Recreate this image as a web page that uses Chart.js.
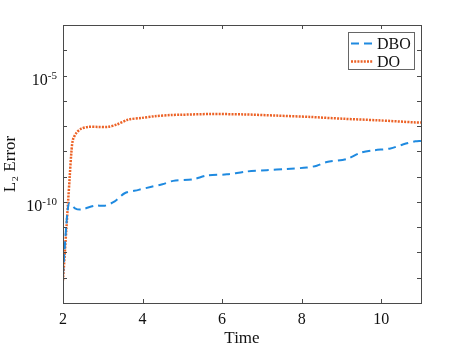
<!DOCTYPE html>
<html>
<head>
  <title>L2 Error vs Time</title>
  <script src="https://cdn.jsdelivr.net/npm/chart.js"></script>
  <style>
    body { margin: 0; background: #fff; }
    #wrap { width: 465px; height: 349px; }
  </style>
</head>
<body>
<div id="wrap"><canvas id="errChart" width="465" height="349"></canvas></div>

<script>
  // data
  const dboTime = [2.0, 2.04, 2.08, 2.12, 2.16, 2.3, 2.45, 2.8, 3.05, 3.3, 3.55, 3.9, 4.2, 4.5, 4.77, 5.27, 5.61, 6.12, 6.62, 7.12, 7.63, 8.13, 8.38, 8.63, 9.13, 9.47, 9.81, 10.23, 10.56, 10.86, 11.0];
  const dboErr = [1.26e-13, 1.26e-12, 1.0e-11, 5.0e-11, 8.9e-11, 5.6e-11, 5.0e-11, 7.1e-11, 7.1e-11, 1.05e-10, 2.2e-10, 3.0e-10, 3.9e-10, 5.0e-10, 6.8e-10, 7.9e-10, 1.1e-9, 1.23e-9, 1.6e-9, 1.8e-9, 2.0e-9, 2.3e-9, 2.7e-9, 3.8e-9, 5.0e-9, 8.7e-9, 1.1e-8, 1.3e-8, 1.9e-8, 2.5e-8, 2.6e-8];

  const doTime = [2.0, 2.086, 2.126, 2.169, 2.21, 2.25, 2.34, 2.46, 2.63, 2.88, 3.13, 3.35, 3.64, 3.97, 4.31, 4.73, 4.94, 5.7, 6.53, 7.38, 8.21, 9.05, 9.89, 10.86, 11.0];
  const doErr = [7.9e-14, 9.1e-12, 9.1e-11, 1.0e-9, 8.9e-9, 2.9e-8, 5.5e-8, 7.9e-8, 9.3e-8, 9.3e-8, 9.3e-8, 1.15e-7, 1.8e-7, 2.1e-7, 2.45e-7, 2.75e-7, 2.8e-7, 3.0e-7, 2.9e-7, 2.6e-7, 2.3e-7, 1.95e-7, 1.7e-7, 1.4e-7, 1.38e-7];

  const xTicks = [2, 4, 6, 8, 10];
  const yTicks = [1e-14, 1e-13, 1e-12, 1e-11, 1e-10, 1e-9, 1e-8, 1e-7, 1e-6, 1e-5, 1e-4, 1e-3];
  const yLabels = [[1e-5, '-5'], [1e-10, '-10']];

  const BLUE = '#1f8ae0';
  const ORANGE = '#ec6226';
  const AXIS = '#4a4a4a';
  const SERIF = '"Liberation Serif", "DejaVu Serif", serif';

  function pts(xs, ys) {
    return xs.map((x, i) => ({ x: x, y: ys[i] }));
  }

  // box, inward ticks, superscript y labels and legend, MATLAB style
  const matlabAxes = {
    id: 'matlabAxes',
    afterDraw(chart) {
      const c = chart.ctx;
      const a = chart.chartArea;
      const xs = chart.scales.x, ys = chart.scales.y;
      c.save();
      c.strokeStyle = AXIS;
      c.lineWidth = 1;
      c.strokeRect(Math.round(a.left) + 0.5, Math.round(a.top) + 0.5,
                   Math.round(a.right - a.left), Math.round(a.bottom - a.top));
      const tl = 4;
      c.beginPath();
      xTicks.forEach(v => {
        const px = Math.round(xs.getPixelForValue(v)) + 0.5;
        c.moveTo(px, a.bottom); c.lineTo(px, a.bottom - tl);
        c.moveTo(px, a.top); c.lineTo(px, a.top + tl);
      });
      yTicks.forEach(v => {
        const py = Math.round(ys.getPixelForValue(v)) + 0.5;
        c.moveTo(a.left, py); c.lineTo(a.left + tl, py);
        c.moveTo(a.right, py); c.lineTo(a.right - tl, py);
      });
      c.stroke();

      // y labels 10^n
      c.fillStyle = '#111';
      c.textBaseline = 'alphabetic';
      yLabels.forEach(([v, exp]) => {
        const py = ys.getPixelForValue(v);
        c.font = '11px ' + SERIF;
        const we = c.measureText(exp).width;
        c.font = '16px ' + SERIF;
        const wb = c.measureText('10').width;
        const right = a.left - 6;
        c.textAlign = 'left';
        c.fillText('10', right - we - wb, py + 9);
        c.font = '11px ' + SERIF;
        c.fillText(exp, right - we, py + 3);
      });

      // legend
      const lw = 66, lh = 37;
      const lx = a.right - 7 - lw, ly = a.top + 7;
      c.fillStyle = '#fff';
      c.fillRect(lx, ly, lw, lh);
      c.strokeStyle = '#666';
      c.strokeRect(Math.round(lx) + 0.5, Math.round(ly) + 0.5, lw, lh);
      const items = chart.data.datasets;
      items.forEach((ds, i) => {
        const yy = Math.round(ly + 11 + i * 18) + 0.5;
        c.strokeStyle = ds.borderColor;
        c.lineWidth = ds.borderWidth;
        c.setLineDash(ds.borderDash);
        c.beginPath();
        c.moveTo(lx + 3, yy); c.lineTo(lx + 25, yy);
        c.stroke();
        c.setLineDash([]);
        c.fillStyle = '#111';
        c.font = '16px ' + SERIF;
        c.textBaseline = 'middle';
        c.fillText(ds.label, lx + 29, yy + 1);
      });
      c.restore();
    }
  };

  new Chart(document.getElementById('errChart').getContext('2d'), {
    type: 'line',
    data: {
      datasets: [{
        label: 'DBO',
        data: pts(dboTime, dboErr),
        borderColor: BLUE,
        borderWidth: 2,
        borderDash: [8, 5],
        pointRadius: 0,
        tension: 0.3,
        fill: false
      }, {
        label: 'DO',
        data: pts(doTime, doErr),
        borderColor: ORANGE,
        borderWidth: 2.5,
        borderDash: [2, 1.2],
        pointRadius: 0,
        tension: 0.3,
        fill: false
      }]
    },
    options: {
      responsive: false,
      animation: false,
      layout: { padding: { top: 25, right: 44, left: 0, bottom: 0 } },
      plugins: {
        legend: { display: false },
        tooltip: { enabled: false }
      },
      scales: {
        x: {
          type: 'linear',
          min: 2,
          max: 11,
          afterBuildTicks: s => { s.ticks = xTicks.map(v => ({ value: v })); },
          afterFit: s => { s.height = 46; },
          grid: { display: false, drawTicks: false },
          border: { display: false },
          ticks: {
            color: '#111',
            padding: 7,
            font: { family: SERIF, size: 16 }
          },
          title: {
            display: true,
            text: 'Time',
            color: '#111',
            padding: { top: 0, bottom: 0 },
            font: { family: SERIF, size: 17 }
          }
        },
        y: {
          type: 'logarithmic',
          min: 1e-14,
          max: 1e-3,
          afterBuildTicks: s => { s.ticks = yTicks.map(v => ({ value: v })); },
          afterFit: s => { s.width = 63; },
          grid: { display: false, drawTicks: false },
          border: { display: false },
          ticks: { display: false },
          title: {
            display: true,
            text: 'L₂ Error',
            color: '#111',
            padding: { top: 0, bottom: 0 },
            font: { family: SERIF, size: 17 }
          }
        }
      }
    },
    plugins: [matlabAxes]
  });
</script>
</body>
</html>
